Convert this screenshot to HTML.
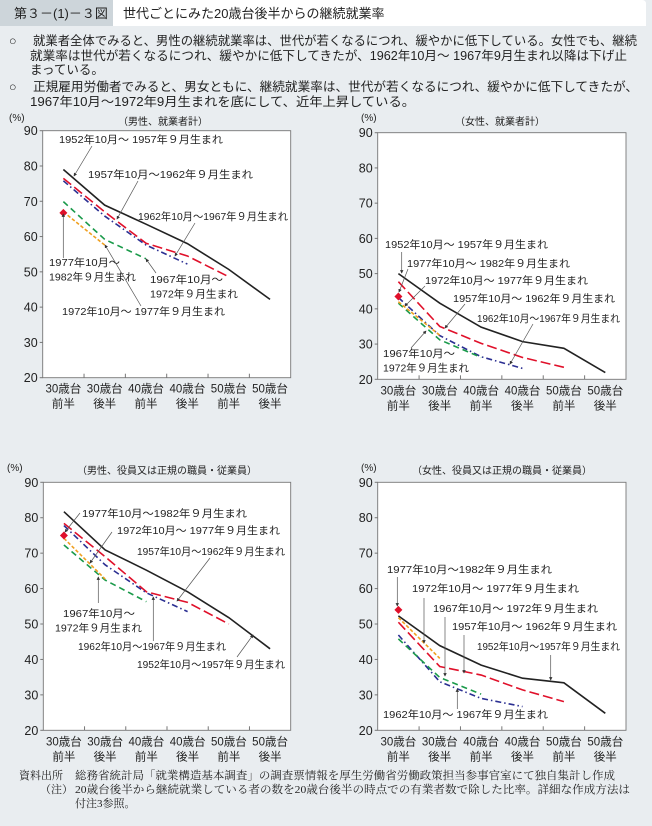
<!DOCTYPE html>
<html><head><meta charset="utf-8">
<style>
html,body{margin:0;padding:0;background:#e9edf0;}
svg{display:block;font-family:"Liberation Sans","Noto Sans CJK JP",sans-serif;}
.serif{font-family:"Liberation Serif","Noto Serif CJK SC",serif;}
</style></head>
<body>
<svg id="page" width="652" height="826" viewBox="0 0 652 826" xmlns="http://www.w3.org/2000/svg">
<defs>
<marker id="ah" viewBox="0 0 6 6" refX="5" refY="3" markerWidth="5" markerHeight="5" orient="auto"><path d="M0,0 L6,3 L0,6 z" fill="#333"/></marker>
</defs>
<rect x="0" y="0" width="652" height="826" fill="#e9edf0"/>
<g>
<rect x="0" y="0" width="113" height="26" fill="#cdd5da"/>
<path d="M113,0 H642 Q646,0 646,4 V26 H113 Z" fill="#ffffff"/>
<text x="14" y="18" font-size="13" fill="#222">第３－(1)－３図</text>
<text x="123" y="18" font-size="13" fill="#222">世代ごとにみた20歳台後半からの継続就業率</text>
</g>
<g font-size="12.5" fill="#222">
<text x="9" y="45">○</text>
<text x="33" y="45" textLength="604" lengthAdjust="spacingAndGlyphs">就業者全体でみると、男性の継続就業率は、世代が若くなるにつれ、緩やかに低下している。女性でも、継続</text>
<text x="30" y="60" textLength="597" lengthAdjust="spacingAndGlyphs">就業率は世代が若くなるにつれ、緩やかに低下してきたが、1962年10月～ 1967年9月生まれ以降は下げ止</text>
<text x="30" y="74">まっている。</text>
<text x="9" y="91">○</text>
<text x="33" y="91" textLength="605" lengthAdjust="spacingAndGlyphs">正規雇用労働者でみると、男女ともに、継続就業率は、世代が若くなるにつれ、緩やかに低下してきたが、</text>
<text x="30" y="106" textLength="385" lengthAdjust="spacingAndGlyphs">1967年10月～1972年9月生まれを底にして、近年上昇している。</text>
</g>
<g id="charts"></g>
<g class="serif" font-size="11" fill="#222">
<text x="19" y="779">資料出所</text>
<text x="75" y="779" textLength="540" lengthAdjust="spacingAndGlyphs">総務省統計局「就業構造基本調査」の調査票情報を厚生労働省労働政策担当参事官室にて独自集計し作成</text>
<text x="40" y="793">（注）</text>
<text x="75" y="793" textLength="555" lengthAdjust="spacingAndGlyphs">20歳台後半から継続就業している者の数を20歳台後半の時点での有業者数で除した比率。詳細な作成方法は</text>
<text x="75" y="807">付注3参照。</text>
</g>
</svg>
<script>
const categories = [['30歳台','前半'],['30歳台','後半'],['40歳台','前半'],['40歳台','後半'],['50歳台','前半'],['50歳台','後半']];
const yTicks = [20,30,40,50,60,70,80,90];

const c1_1952 = [79.0,68.9,63.5,58.0,50.7,42.2];
const c1_1957 = [76.5,67.0,58.1,54.5,48.6];
const c1_1962 = [75.8,65.8,57.6,52.2];
const c1_1967 = [69.9,59.2,53.7];
const c1_1972 = [67.0,57.6];
const c1_1977 = [66.7];

const c2_1952 = [50.0,41.6,34.8,30.7,28.8,21.9];
const c2_1957 = [47.7,35.0,30.2,26.2,23.4];
const c2_1962 = [43.2,32.4,26.4,23.1];
const c2_1967 = [41.6,31.2,26.2];
const c2_1972 = [42.0,32.5];
const c2_1977 = [43.5];

const c3_1952 = [81.7,70.9,65.2,59.1,51.8,43.0];
const c3_1957 = [78.4,69.0,59.1,56.1,50.0];
const c3_1962 = [77.8,66.7,58.8,53.5];
const c3_1967 = [72.3,62.4,56.3];
const c3_1972 = [74.2,62.7];
const c3_1977 = [75.0];

const c4_1952 = [52.3,43.9,38.4,34.7,33.4,24.8];
const c4_1957 = [50.5,38.0,35.6,31.4,28.1];
const c4_1962 = [46.9,33.7,29.0,26.7];
const c4_1967 = [45.8,34.9,30.2];
const c4_1972 = [51.8,40.3];
const c4_1977 = [54.0];

const NS='http://www.w3.org/2000/svg';
const root=document.getElementById('charts');
function mk(tag,parent){const e=document.createElementNS(NS,tag);parent.appendChild(e);return e;}

const styles={
 s1952:{color:'#222',dash:'',w:1.6},
 s1957:{color:'#e0102a',dash:'10,4',w:1.6},
 s1962:{color:'#2b2f92',dash:'6,3,1.5,3',w:1.6},
 s1967:{color:'#1a9a4a',dash:'6,4',w:1.6},
 s1972:{color:'#f0a020',dash:'3.5,2',w:1.6}
};

function drawChart(cfg){
 const g=mk('g',root);
 
 
 const L=cfg.l,R=cfg.r,T=cfg.t,B=cfg.b,W=R-L,H=B-T;
 const xs=i=>L+(i+0.5)*W/categories.length;
 const ys=v=>B-(v-20)/70*H;
 const bg=mk('rect',g);
 
 
 bg.setAttribute('x',L);bg.setAttribute('y',T);bg.setAttribute('width',W);bg.setAttribute('height',H);
 bg.setAttribute('fill','#fff');bg.setAttribute('stroke','#777');bg.setAttribute('stroke-width','0.9');
 yTicks.forEach(v=>{
  const tk=mk('line',g);
  
  
  tk.setAttribute('x1',L-3);tk.setAttribute('x2',L);tk.setAttribute('y1',ys(v));tk.setAttribute('y2',ys(v));tk.setAttribute('stroke','#777');
  const t=mk('text',g);
  
  
  t.setAttribute('x',L-5);t.setAttribute('y',ys(v)+4.5);t.setAttribute('text-anchor','end');t.setAttribute('font-size','12.5');t.setAttribute('fill','#222');
  t.textContent=v;
 });
 categories.forEach((c,i)=>{
  if(i>0){const tk=mk('line',g);
   
   
   const bx=L+i*W/categories.length;
   tk.setAttribute('x1',bx);tk.setAttribute('x2',bx);tk.setAttribute('y1',B-4);tk.setAttribute('y2',B);tk.setAttribute('stroke','#777');}
  c.forEach((s,k)=>{const t=mk('text',g);
   
   
   t.setAttribute('x',xs(i));t.setAttribute('y',B+15+k*15);t.setAttribute('text-anchor','middle');t.setAttribute('font-size','11.5');t.setAttribute('fill','#222');
   t.textContent=s;});
 });
 const ut=mk('text',g);
 
 
 ut.setAttribute('x',cfg.ux);ut.setAttribute('y',cfg.uy);ut.setAttribute('font-size','10');ut.setAttribute('fill','#222');ut.textContent='(%)';
 const tt=mk('text',g);
 
 
 tt.setAttribute('x',cfg.tx);tt.setAttribute('y',cfg.ty);tt.setAttribute('text-anchor','middle');tt.setAttribute('font-size','10');tt.setAttribute('fill','#222');tt.textContent=cfg.title;
 cfg.series.forEach(s=>{
  const st=styles[s.key];
  const p=mk('polyline',g);
  
  
  p.setAttribute('points',s.data.map((v,i)=>xs(i)+','+ys(v)).join(' '));
  p.setAttribute('fill','none');p.setAttribute('stroke',st.color);p.setAttribute('stroke-width',st.w);
  if(st.dash)p.setAttribute('stroke-dasharray',st.dash);
 });
 cfg.diamond.forEach((v,i)=>{
  const d=mk('path',g);
  
  
  const cx=xs(i),cy=ys(v);
  d.setAttribute('d',`M${cx},${cy-4} L${cx+4},${cy} L${cx},${cy+4} L${cx-4},${cy} Z`);
  d.setAttribute('fill','#e0102a');
 });
 cfg.labels.forEach(lb=>{
  lb.t.forEach((txt,k)=>{
   const t=mk('text',g);
   
   
   t.setAttribute('x',lb.x+(lb.dx?lb.dx[k]:0));t.setAttribute('y',lb.y+k*14.5);t.setAttribute('font-size','10.5');t.setAttribute('fill','#222');
   t.setAttribute('textLength',lb.w[k]);t.setAttribute('lengthAdjust','spacingAndGlyphs');
   t.textContent=txt;
  });
  const a=mk('line',g);
  
  
  a.setAttribute('x1',lb.a[0]);a.setAttribute('y1',lb.a[1]);a.setAttribute('x2',lb.a[2]);a.setAttribute('y2',lb.a[3]);
  a.setAttribute('stroke','#555');a.setAttribute('stroke-width','0.7');a.setAttribute('marker-end','url(#ah)');
 });
}

drawChart({name:'chart-male-all-workers',l:42.7,r:290.7,t:130.7,b:377.7,ux:9,uy:121,tx:163,ty:125,title:'（男性、就業者計）',
 series:[{key:'s1952',data:c1_1952},{key:'s1957',data:c1_1957},{key:'s1962',data:c1_1962},{key:'s1967',data:c1_1967},{key:'s1972',data:c1_1972}],
 diamond:c1_1977,
 labels:[
  {x:59,y:143,w:[164],t:['1952年10月～ 1957年９月生まれ'],a:[92,146,74,176]},
  {x:88,y:178,w:[165],t:['1957年10月～1962年９月生まれ'],a:[138,181,117,219]},
  {x:138,y:220,w:[150],t:['1962年10月～1967年９月生まれ'],a:[195,223,175,256]},
  {x:49,y:266,w:[71,87],t:['1977年10月～','1982年９月生まれ'],a:[63.3,258,63.3,214]},
  {x:150,y:283,w:[73,88],t:['1967年10月～','1972年９月生まれ'],a:[156,273,146,259]},
  {x:62,y:315,w:[163],t:['1972年10月～ 1977年９月生まれ'],a:[141,306,105,245]}
 ]});

drawChart({name:'chart-female-all-workers',l:377.7,r:626,t:132.7,b:379.3,ux:361,uy:121,tx:500,ty:125,title:'（女性、就業者計）',
 series:[{key:'s1952',data:c2_1952},{key:'s1957',data:c2_1957},{key:'s1962',data:c2_1962},{key:'s1967',data:c2_1967},{key:'s1972',data:c2_1972}],
 diamond:c2_1977,
 labels:[
  {x:385,y:248,w:[163],t:['1952年10月～ 1957年９月生まれ'],a:[401.7,252,401.7,273]},
  {x:407,y:267,w:[163],t:['1977年10月～ 1982年９月生まれ'],a:[408,269,399,292]},
  {x:425,y:284,w:[163],t:['1972年10月～ 1977年９月生まれ'],a:[425,286,405,306]},
  {x:453,y:302,w:[162],t:['1957年10月～ 1962年９月生まれ'],a:[465,304,445,328]},
  {x:477,y:322,w:[143],t:['1962年10月～1967年９月生まれ'],a:[533,324,510,364]},
  {x:383,y:357,w:[72,86],t:['1967年10月～','1972年９月生まれ'],a:[411,348,426,331]}
 ]});

drawChart({name:'chart-male-regular-employees',l:43.3,r:290.7,t:482.3,b:730.3,ux:7,uy:471,tx:167,ty:474,title:'（男性、役員又は正規の職員・従業員）',
 series:[{key:'s1952',data:c3_1952},{key:'s1957',data:c3_1957},{key:'s1962',data:c3_1962},{key:'s1967',data:c3_1967},{key:'s1972',data:c3_1972}],
 diamond:c3_1977,
 labels:[
  {x:82,y:517,w:[165],t:['1977年10月～1982年９月生まれ'],a:[80,513,65,532]},
  {x:117,y:534,w:[163],t:['1972年10月～ 1977年９月生まれ'],a:[112,532,90,563]},
  {x:137,y:555,w:[148],t:['1957年10月～1962年９月生まれ'],a:[210,558,177,601]},
  {x:55,y:617,w:[72,87],dx:[8,0],t:['1967年10月～','1972年９月生まれ'],a:[98.3,603,98.3,577]},
  {x:78,y:650,w:[148],t:['1962年10月～1967年９月生まれ'],a:[153.3,641,153.3,597]},
  {x:137,y:668,w:[148],t:['1952年10月～1957年９月生まれ'],a:[237,657,253,635]}
 ]});

drawChart({name:'chart-female-regular-employees',l:377.7,r:626,t:482.3,b:730.3,ux:361,uy:471,tx:502,ty:474,title:'（女性、役員又は正規の職員・従業員）',
 series:[{key:'s1952',data:c4_1952},{key:'s1957',data:c4_1957},{key:'s1962',data:c4_1962},{key:'s1967',data:c4_1967},{key:'s1972',data:c4_1972}],
 diamond:c4_1977,
 labels:[
  {x:387,y:573,w:[165],t:['1977年10月～1982年９月生まれ'],a:[397.3,577,397.3,606]},
  {x:412,y:592,w:[167],t:['1972年10月～ 1977年９月生まれ'],a:[424,598,424,643]},
  {x:433,y:612,w:[165],t:['1967年10月～ 1972年９月生まれ'],a:[445,617,445,676]},
  {x:452,y:630,w:[165],t:['1957年10月～ 1962年９月生まれ'],a:[464,635,464,673]},
  {x:477,y:650,w:[143],t:['1952年10月～1957年９月生まれ'],a:[550.7,655,550.7,680]},
  {x:383,y:718,w:[165],t:['1962年10月～ 1967年９月生まれ'],a:[457.3,709,457.3,689]}
 ]});
</script>
</body></html>
